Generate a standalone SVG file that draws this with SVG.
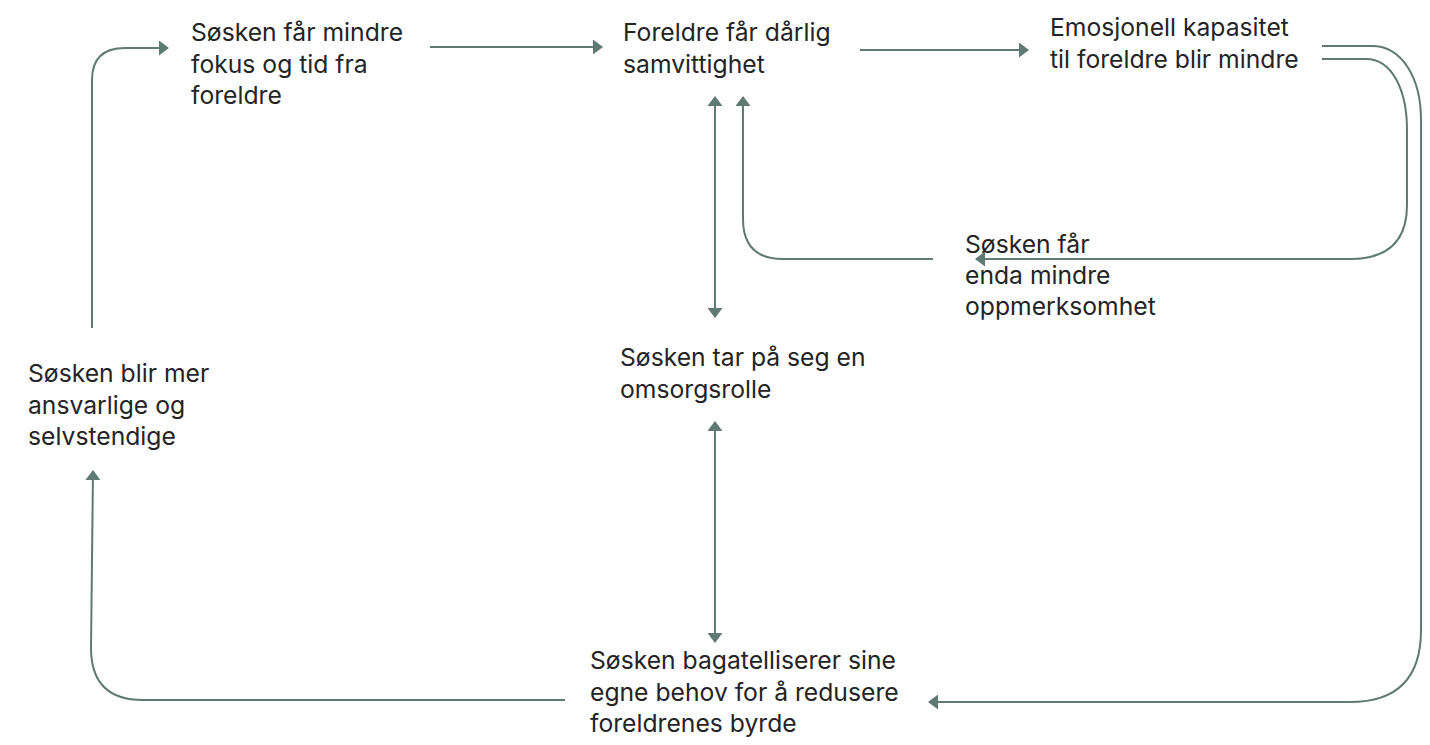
<svg xmlns="http://www.w3.org/2000/svg" width="1430" height="745" viewBox="0 0 1430 745">
  <style>
    .lbl { font-family: Inter, "Liberation Sans", sans-serif; font-size: 24.7px; fill: #242424; }
    .con { fill: none; stroke: #5e7a72; stroke-width: 2; }
  </style>
  <defs>
    <marker id="head" markerUnits="userSpaceOnUse" markerWidth="10" markerHeight="15" refX="9" refY="7.5" orient="auto-start-reverse" viewBox="0 0 10 15">
      <path d="M0,0 L10,7.5 L0,15 Z" fill="#5e7a72"/>
    </marker>
  </defs>
  <rect width="1430" height="745" fill="#ffffff"/>

  <g id="connectors">
    <!-- selvstendige -> mindre fokus -->
    <path class="con" d="M92,328 V80 Q92,48 125,48 H168" marker-end="url(#head)"/>
    <!-- mindre fokus -> dårlig samvittighet -->
    <path class="con" d="M430,47 H602" marker-end="url(#head)"/>
    <!-- dårlig samvittighet -> emosjonell kapasitet -->
    <path class="con" d="M860,50 H1028" marker-end="url(#head)"/>
    <!-- emosjonell kapasitet -> bagatelliserer (outer loop) -->
    <path class="con" d="M1322,46 H1372 C1402,46 1421,78 1421,120 V630 Q1421,702 1350,702 H929" marker-end="url(#head)"/>
    <!-- emosjonell kapasitet -> enda mindre oppmerksomhet (inner loop) -->
    <path class="con" d="M1322,59 H1366 C1392,59 1407,90 1407,130 V205 Q1407,259 1350,259 H976" marker-end="url(#head)"/>
    <!-- enda mindre oppmerksomhet -> dårlig samvittighet -->
    <path class="con" d="M933,259 H783 Q743,259 743,219 V97" marker-end="url(#head)"/>
    <!-- dårlig samvittighet <-> omsorgsrolle -->
    <path class="con" d="M715,97 V317" marker-start="url(#head)" marker-end="url(#head)"/>
    <!-- omsorgsrolle <-> bagatelliserer -->
    <path class="con" d="M715,422 V642" marker-start="url(#head)" marker-end="url(#head)"/>
    <!-- bagatelliserer -> selvstendige -->
    <path class="con" d="M565,700 H143 Q91,700 91,648 L93,471" marker-end="url(#head)"/>
  </g>

  <g id="node-mindre-fokus">
    <text class="lbl" x="191" y="41">Søsken får mindre</text>
    <text class="lbl" x="191" y="72.5">fokus og tid fra</text>
    <text class="lbl" x="191" y="104">foreldre</text>
  </g>
  <g id="node-daarlig-samvittighet">
    <text class="lbl" x="623" y="41">Foreldre får dårlig</text>
    <text class="lbl" x="623" y="72.5">samvittighet</text>
  </g>
  <g id="node-emosjonell-kapasitet">
    <text class="lbl" x="1050" y="36">Emosjonell kapasitet</text>
    <text class="lbl" x="1050" y="68">til foreldre blir mindre</text>
  </g>
  <g id="node-enda-mindre">
    <text class="lbl" x="965" y="253">Søsken får</text>
    <text class="lbl" x="965" y="284">enda mindre</text>
    <text class="lbl" x="965" y="315">oppmerksomhet</text>
  </g>
  <g id="node-omsorgsrolle">
    <text class="lbl" x="620" y="366">Søsken tar på seg en</text>
    <text class="lbl" x="620" y="398">omsorgsrolle</text>
  </g>
  <g id="node-selvstendige">
    <text class="lbl" x="28" y="382">Søsken blir mer</text>
    <text class="lbl" x="28" y="414">ansvarlige og</text>
    <text class="lbl" x="28" y="445">selvstendige</text>
  </g>
  <g id="node-bagatelliserer">
    <text class="lbl" x="590" y="669">Søsken bagatelliserer sine</text>
    <text class="lbl" x="590" y="701">egne behov for å redusere</text>
    <text class="lbl" x="590" y="732">foreldrenes byrde</text>
  </g>
</svg>
